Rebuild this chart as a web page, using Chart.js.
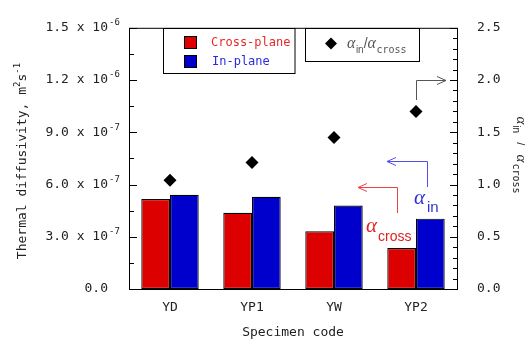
<!DOCTYPE html>
<html>
<head>
<meta charset="utf-8">
<script src="https://cdn.jsdelivr.net/npm/chart.js@4"></script>
<style>
  html, body { margin: 0; padding: 0; background: #fff; }
  #wrap { width: 529px; height: 342px; }
</style>
</head>
<body>
<div id="wrap"><canvas id="chart"></canvas></div>
<script>
const categories = ['YD', 'YP1', 'YW', 'YP2'];
const crossPlane = [5.17e-7, 4.38e-7, 3.31e-7, 2.35e-7];
const inPlane = [5.41e-7, 5.30e-7, 4.79e-7, 4.04e-7];
const ratio = [1.04, 1.21, 1.45, 1.70];
const leftTicks = [0, 3e-7, 6e-7, 9e-7, 1.2e-6, 1.5e-6];
const leftMantissa = ['0.0', '3.0', '6.0', '9.0', '1.2', '1.5'];
const leftExponent = ['', '-7', '-7', '-7', '-6', '-6'];
const rightTicks = [0, 0.5, 1.0, 1.5, 2.0, 2.5];

const MONO = '"DejaVu Sans Mono", monospace';
const SERIF = '"Liberation Serif", serif';
const SANS = '"Liberation Sans", sans-serif';
const TEXT = '#222';

function spanWidth(ctx, spans) {
  let w = 0;
  for (const s of spans) {
    ctx.font = s.font;
    w += ctx.measureText(s.text).width + (s.gap || 0);
  }
  return w;
}

function drawSpans(ctx, spans, x, y) {
  ctx.textAlign = 'left';
  ctx.textBaseline = 'alphabetic';
  for (const s of spans) {
    ctx.font = s.font;
    ctx.fillStyle = s.color || TEXT;
    ctx.fillText(s.text, x, y + (s.dy || 0));
    x += ctx.measureText(s.text).width + (s.gap || 0);
  }
}

function arrow(ctx, pts, color, dir) {
  ctx.strokeStyle = color;
  ctx.lineWidth = 1;
  ctx.beginPath();
  ctx.moveTo(pts[0][0], pts[0][1]);
  for (let i = 1; i < pts.length; i++) ctx.lineTo(pts[i][0], pts[i][1]);
  ctx.stroke();
  const [hx, hy] = pts[pts.length - 1];
  ctx.beginPath();
  ctx.moveTo(hx - 9 * dir, hy - 4);
  ctx.lineTo(hx, hy);
  ctx.lineTo(hx - 9 * dir, hy + 4);
  ctx.stroke();
}

const decor = {
  id: 'decor',
  afterDraw(chart) {
    const ctx = chart.ctx;
    const a = chart.chartArea;
    const yl = chart.scales.y;
    const yr = chart.scales.y2;
    ctx.save();

    // frame
    ctx.strokeStyle = '#000';
    ctx.lineWidth = 1;
    ctx.strokeRect(a.left + 0.5, a.top + 0.5, a.right - a.left, a.bottom - a.top);

    // left ticks, inward
    ctx.beginPath();
    leftTicks.forEach((v, i) => {
      const p = Math.round(yl.getPixelForValue(v)) + 0.5;
      ctx.moveTo(a.left, p); ctx.lineTo(a.left + 8, p);
      if (i > 0) {
        const m = Math.round(yl.getPixelForValue((v + leftTicks[i - 1]) / 2)) + 0.5;
        ctx.moveTo(a.left, m); ctx.lineTo(a.left + 5, m);
      }
    });
    // right ticks, inward
    rightTicks.forEach((v, i) => {
      const p = Math.round(yr.getPixelForValue(v)) + 0.5;
      ctx.moveTo(a.right, p); ctx.lineTo(a.right - 7, p);
      if (i > 0) {
        const prev = rightTicks[i - 1];
        for (let k = 1; k < 5; k++) {
          const m = Math.round(yr.getPixelForValue(prev + (v - prev) * k / 5)) + 0.5;
          ctx.moveTo(a.right, m); ctx.lineTo(a.right - 4, m);
        }
      }
    });
    ctx.stroke();

    // left tick labels with exponent
    leftTicks.forEach((v, i) => {
      const p = yl.getPixelForValue(v);
      ctx.fillStyle = TEXT;
      ctx.textBaseline = 'middle';
      ctx.textAlign = 'right';
      ctx.font = '13px ' + MONO;
      ctx.fillText(leftExponent[i] ? leftMantissa[i] + ' x 10' : leftMantissa[i], 108, p);
      if (leftExponent[i]) {
        ctx.textAlign = 'left';
        ctx.font = '9px ' + MONO;
        ctx.fillText(leftExponent[i], 109, p - 5);
      }
    });

    // left axis title
    ctx.save();
    ctx.translate(26, 161);
    ctx.rotate(-Math.PI / 2);
    const lt = [
      { text: 'Thermal diffusivity, m', font: '13px ' + MONO },
      { text: '2', font: '9px ' + MONO, dy: -6 },
      { text: 's', font: '13px ' + MONO },
      { text: '-1', font: '9px ' + MONO, dy: -6 }
    ];
    drawSpans(ctx, lt, -spanWidth(ctx, lt) / 2, 0);
    ctx.restore();

    // right axis title
    ctx.save();
    ctx.translate(517, 155);
    ctx.rotate(Math.PI / 2);
    const rt = [
      { text: '\u03b1', font: 'italic 15px ' + SERIF, gap: 1 },
      { text: 'in', font: '10px ' + SANS, dy: 4 },
      { text: '   /   ', font: '11px ' + SANS },
      { text: '\u03b1', font: 'italic 15px ' + SERIF, gap: 1 },
      { text: 'cross', font: '10px ' + MONO, dy: 4 }
    ];
    drawSpans(ctx, rt, -spanWidth(ctx, rt) / 2, 0);
    ctx.restore();

    // x axis title
    ctx.fillStyle = TEXT;
    ctx.font = '13px ' + MONO;
    ctx.textAlign = 'center';
    ctx.textBaseline = 'middle';
    ctx.fillText('Specimen code', (a.left + a.right) / 2, 333);

    // legend 1
    ctx.strokeStyle = '#000';
    ctx.lineWidth = 1;
    ctx.strokeRect(163.5, 28.5, 131.5, 45);
    ctx.fillStyle = '#dd0000';
    ctx.fillRect(184, 36, 13, 13);
    ctx.strokeRect(184.5, 36.5, 12, 12);
    ctx.fillStyle = '#0000cc';
    ctx.fillRect(184, 55, 13, 13);
    ctx.strokeRect(184.5, 55.5, 12, 12);
    ctx.font = '12px ' + MONO;
    ctx.textAlign = 'left';
    ctx.textBaseline = 'middle';
    ctx.fillStyle = '#e82828';
    ctx.fillText('Cross-plane', 211, 42.5);
    ctx.fillStyle = '#2a2ae0';
    ctx.fillText('In-plane', 212, 62);

    // legend 2
    ctx.strokeRect(305.5, 28.5, 114, 33);
    ctx.fillStyle = '#000';
    ctx.beginPath();
    ctx.moveTo(331, 37.5); ctx.lineTo(337, 43.5); ctx.lineTo(331, 49.5); ctx.lineTo(325, 43.5);
    ctx.closePath();
    ctx.fill();
    drawSpans(ctx, [
      { text: '\u03b1', font: 'italic 16px ' + SERIF, color: '#555', gap: 0.5 },
      { text: 'in', font: '10px ' + SANS, color: '#555', dy: 5 },
      { text: '/', font: '14px ' + SANS, color: '#555' },
      { text: '\u03b1', font: 'italic 16px ' + SERIF, color: '#555', gap: 0.5 },
      { text: 'cross', font: '10px ' + MONO, color: '#555', dy: 5 }
    ], 347, 48);

    // annotation arrows
    arrow(ctx, [[416.5, 100], [416.5, 80.5], [446, 80.5]], '#555', 1);
    arrow(ctx, [[397.5, 213], [397.5, 187.5], [358, 187.5]], '#f04040', -1);
    arrow(ctx, [[427.5, 187], [427.5, 161.5], [387, 161.5]], '#5050e8', -1);

    drawSpans(ctx, [
      { text: '\u03b1', font: 'italic 21px ' + SERIF, color: '#e02020', gap: 1 },
      { text: 'cross', font: '14px ' + SANS, color: '#e02020', dy: 9 }
    ], 366, 232);
    drawSpans(ctx, [
      { text: '\u03b1', font: 'italic 21px ' + SERIF, color: '#3030d8', gap: 2 },
      { text: 'in', font: '15px ' + SANS, color: '#3030d8', dy: 8 }
    ], 414, 204);

    ctx.restore();
  }
};

new Chart(document.getElementById('chart'), {
  type: 'bar',
  data: {
    labels: categories,
    datasets: [
      {
        label: 'Cross-plane',
        data: crossPlane,
        backgroundColor: '#dd0000',
        borderColor: '#000',
        borderWidth: 1.2,
        borderSkipped: false,
        yAxisID: 'y',
        order: 1
      },
      {
        label: 'In-plane',
        data: inPlane,
        backgroundColor: '#0000cc',
        borderColor: '#000',
        borderWidth: 1.2,
        borderSkipped: false,
        yAxisID: 'y',
        order: 1
      },
      {
        type: 'line',
        label: 'ratio',
        data: ratio,
        showLine: false,
        pointStyle: 'rectRot',
        pointRadius: 6.5,
        backgroundColor: '#000',
        borderColor: '#000',
        borderWidth: 0,
        yAxisID: 'y2',
        order: 0
      }
    ]
  },
  options: {
    responsive: true,
    maintainAspectRatio: false,
    animation: false,
    layout: { padding: { top: 23, left: 0, right: 0, bottom: 0 } },
    categoryPercentage: 0.7,
    barPercentage: 1.0,
    plugins: { legend: { display: false }, tooltip: { enabled: false } },
    scales: {
      x: {
        grid: { display: false, drawTicks: false },
        border: { display: false },
        ticks: { font: { family: MONO, size: 13 }, color: TEXT, padding: 11 },
        afterFit(s) { s.height = 53; }
      },
      y: {
        position: 'left',
        min: 0,
        max: 1.5e-6,
        afterBuildTicks(s) { s.ticks = leftTicks.map(v => ({ value: v })); },
        grid: { display: false, drawTicks: false },
        border: { display: false },
        ticks: { display: false },
        afterFit(s) { s.width = 129; }
      },
      y2: {
        position: 'right',
        min: 0,
        max: 2.5,
        afterBuildTicks(s) { s.ticks = rightTicks.map(v => ({ value: v })); },
        grid: { display: false, drawTicks: false },
        border: { display: false },
        ticks: {
          font: { family: MONO, size: 13 },
          color: TEXT,
          padding: 20,
          callback: v => v.toFixed(1)
        },
        afterFit(s) { s.width = 72; }
      }
    }
  },
  plugins: [decor]
});
</script>
</body>
</html>
